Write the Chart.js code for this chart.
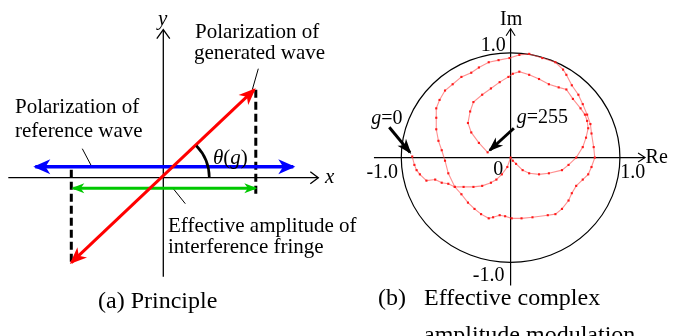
<!DOCTYPE html>
<html>
<head>
<meta charset="utf-8">
<script src="https://cdn.jsdelivr.net/npm/chart.js@4.4.0/dist/chart.umd.min.js"></script>
<style>
    html, body { margin: 0; padding: 0; background: #fff; }
    #wrap { position: relative; width: 673px; height: 336px; overflow: hidden; }
    #principle { position: absolute; left: 0; top: 0; }
    #modulation { position: absolute; left: 340px; top: 0; }
</style>
</head>
<body>
<div id="wrap">
    <canvas id="principle" width="673" height="336"></canvas>
    <canvas id="modulation" width="333" height="336"></canvas>
</div>
<script>
// ---- (a) Principle: vectors of the diagram, [x, y]
const refWave = [[-1.28, 0.11], [1.30, 0.11]];
const genWave = [[-0.92, -0.85], [0.91, 0.88]];
const effAmplitude = [[-0.90, -0.105], [0.92, -0.105]];
const projLeft = [[-0.92, 0.08], [-0.92, -0.84]];
const projRight = [[0.925, 0.88], [0.925, -0.19]];
const xAxisLine = [[-1.55, 0], [1.55, 0]];
const yAxisLine = [[0, -0.99], [0, 1.48]];
const leaderGen = [[0.95, 1.09], [0.89, 0.88]];
const leaderRef = [[-0.81, 0.29], [-0.71, 0.10]];
const leaderEff = [[0.10, -0.11], [0.22, -0.26]];
const thetaRadius = 0.46;

// ---- (b) Effective complex amplitude, g = 0 ... 255
const reValues = [
    -0.90, -0.88, -0.86, -0.83, -0.77, -0.69, -0.63, -0.57, -0.51,
    -0.45, -0.39, -0.33, -0.27, -0.20, -0.16, -0.10, -0.05, 0.01, 0.10, 0.20, 0.34, 0.41, 0.47, 0.53, 0.56,
    0.60, 0.66, 0.71, 0.74, 0.77, 0.76, 0.74, 0.73, 0.70, 0.66, 0.62, 0.56, 0.51, 0.48, 0.41, 0.29, 0.17,
    0.08, -0.01, -0.11, -0.20, -0.29, -0.36, -0.45, -0.53, -0.60, -0.65, -0.68, -0.68, -0.68, -0.66, -0.63,
    -0.60, -0.57, -0.51,
    -0.43, -0.34, -0.26, -0.18, -0.13, -0.08, -0.03, 0.00,
    0.02, 0.05, 0.11, 0.17, 0.26, 0.35, 0.47, 0.53, 0.60, 0.66, 0.69, 0.71, 0.70, 0.68, 0.64, 0.57, 0.51,
    0.44, 0.35, 0.26, 0.17, 0.08, 0.02, -0.02, -0.10, -0.18, -0.26, -0.34, -0.37, -0.39, -0.36, -0.29, -0.21
];
const imValues = [
    0.01, -0.07, -0.12, -0.16, -0.22, -0.21, -0.24, -0.25, -0.28,
    -0.35, -0.43, -0.49, -0.54, -0.58, -0.57, -0.55, -0.56, -0.58, -0.58, -0.57, -0.55, -0.54, -0.49, -0.41, -0.34,
    -0.27, -0.21, -0.16, -0.09, 0.00, 0.10, 0.23, 0.32, 0.41, 0.51, 0.60, 0.69, 0.79, 0.84, 0.91, 0.95, 0.99,
    0.98, 0.95, 0.93, 0.91, 0.86, 0.81, 0.77, 0.70, 0.64, 0.55, 0.47, 0.38, 0.27, 0.16, 0.07,
    -0.03, -0.15, -0.28,
    -0.28, -0.28, -0.27, -0.24, -0.21, -0.16, -0.09, 0.00,
    -0.03, -0.06, -0.12, -0.15, -0.16, -0.15, -0.12, -0.07, 0.00, 0.10, 0.19, 0.28, 0.35, 0.41, 0.47, 0.56, 0.65,
    0.67, 0.70, 0.75, 0.79, 0.82, 0.80, 0.77, 0.72, 0.66, 0.60, 0.53, 0.44, 0.33, 0.24, 0.14, 0.05
];
const reAxisLine = [[-1.25, 0], [1.23, 0]];
const imAxisLine = [[0, -1.22], [0, 1.23]];
const g0Arrow = [[-1.11, 0.29], [-0.92, 0.05]];
const g255Arrow = [[0.03, 0.28], [-0.19, 0.07]];

const SERIF = '"Liberation Serif", "Times New Roman", serif';

function toPts(pairs) {
    return pairs.map(p => ({ x: p[0], y: p[1] }));
}

function lineSet(pairs, color, width, extra) {
    return Object.assign({
        data: toPts(pairs),
        showLine: true,
        borderColor: color,
        borderWidth: width,
        pointRadius: 0,
        fill: false
    }, extra || {});
}

// arrow head at tip, pointing away from "from"
function drawHead(ctx, tip, from, h, color) {
    const a = Math.atan2(tip.y - from.y, tip.x - from.x);
    ctx.save();
    ctx.translate(tip.x, tip.y);
    ctx.rotate(a);
    ctx.beginPath();
    if (h.open) {
        ctx.moveTo(-h.len, -h.half);
        ctx.lineTo(0, 0);
        ctx.lineTo(-h.len, h.half);
        ctx.strokeStyle = color;
        ctx.lineWidth = h.width || 1.3;
        ctx.stroke();
    } else {
        const ext = h.ext || 0;
        ctx.moveTo(ext, 0);
        ctx.lineTo(ext - h.len, -h.half);
        ctx.lineTo(ext - h.len * (h.notch || 0.72), 0);
        ctx.lineTo(ext - h.len, h.half);
        ctx.closePath();
        ctx.fillStyle = color;
        ctx.fill();
    }
    ctx.restore();
}

const arrowPlugin = {
    id: 'arrowHeads',
    afterDatasetsDraw: function(chart) {
        const ctx = chart.ctx;
        chart.data.datasets.forEach((ds, i) => {
            if (!ds.heads) return;
            const pts = chart.getDatasetMeta(i).data;
            const n = pts.length;
            if (ds.heads.end) drawHead(ctx, pts[n - 1], pts[n - 2], ds.heads, ds.borderColor);
            if (ds.heads.start) drawHead(ctx, pts[0], pts[1], ds.heads, ds.borderColor);
        });
    }
};

// text made of plain / italic parts, anchored at a data position (left, baseline)
function drawRich(chart, parts, x, y, size) {
    const ctx = chart.ctx;
    let px = chart.scales.x.getPixelForValue(x);
    const py = chart.scales.y.getPixelForValue(y);
    ctx.save();
    ctx.fillStyle = '#000';
    ctx.textAlign = 'left';
    ctx.textBaseline = 'alphabetic';
    parts.forEach(p => {
        ctx.font = (p[1] ? 'italic ' : '') + size + 'px ' + SERIF;
        ctx.fillText(p[0], px, py);
        px += ctx.measureText(p[0]).width;
    });
    ctx.restore();
}

function textPlugin(labels) {
    return {
        id: 'labels',
        afterDraw: function(chart) {
            labels.forEach(l => drawRich(chart, l.parts, l.x, l.y, l.size));
        }
    };
}

const baseOptions = function(xMin, xMax, yMin, yMax) {
    return {
        responsive: false,
        animation: false,
        layout: { padding: 0 },
        plugins: { legend: { display: false }, tooltip: { enabled: false } },
        scales: {
            x: { type: 'linear', min: xMin, max: xMax, display: false },
            y: { type: 'linear', min: yMin, max: yMax, display: false }
        },
        elements: { line: { tension: 0 } }
    };
};

// ---------------- (a) Principle ----------------
const principleLabels = [
    { parts: [['y', 1]], x: -0.053, y: 1.527, size: 21 },
    { parts: [['x', 1]], x: 1.617, y: -0.05, size: 21 },
    { parts: [['Polarization of', 0]], x: 0.317, y: 1.397, size: 21 },
    { parts: [['generated wave', 0]], x: 0.307, y: 1.187, size: 21 },
    { parts: [['Polarization of', 0]], x: -1.483, y: 0.644, size: 21 },
    { parts: [['reference wave', 0]], x: -1.483, y: 0.404, size: 21 },
    { parts: [['θ', 1], ['(', 0], ['g', 1], [')', 0]], x: 0.497, y: 0.137, size: 21 },
    { parts: [['Effective amplitude of', 0]], x: 0.047, y: -0.546, size: 21 },
    { parts: [['interference fringe', 0]], x: 0.047, y: -0.756, size: 21 },
    { parts: [['(a) Principle', 0]], x: -0.653, y: -1.306, size: 24 }
];

const thetaPlugin = {
    id: 'thetaArc',
    afterDatasetsDraw: function(chart) {
        const sx = chart.scales.x, sy = chart.scales.y;
        const cx = sx.getPixelForValue(0), cy = sy.getPixelForValue(0);
        const r = sx.getPixelForValue(thetaRadius) - cx;
        const tip = genWave[1];
        const ang = Math.atan2(sy.getPixelForValue(tip[1]) - cy, sx.getPixelForValue(tip[0]) - cx);
        const ctx = chart.ctx;
        ctx.save();
        ctx.beginPath();
        ctx.arc(cx, cy, r, ang, 0);
        ctx.strokeStyle = '#000';
        ctx.lineWidth = 2.6;
        ctx.stroke();
        ctx.restore();
    }
};

new Chart(document.getElementById('principle'), {
    type: 'scatter',
    data: {
        datasets: [
            lineSet(genWave, '#ff0000', 3, { heads: { start: true, end: true, len: 17, half: 7, ext: 2 } }),
            lineSet(refWave, '#0000ff', 3.5, { heads: { start: true, end: true, len: 17, half: 7.5, ext: 2 } }),
            lineSet(effAmplitude, '#00c800', 3, { heads: { start: true, end: true, len: 13, half: 5, ext: 2 } }),
            lineSet(projLeft, '#000', 3, { borderDash: [8, 4] }),
            lineSet(projRight, '#000', 3, { borderDash: [8, 4] }),
            lineSet(leaderGen, '#000', 1),
            lineSet(leaderRef, '#000', 1),
            lineSet(leaderEff, '#000', 1),
            lineSet(xAxisLine, '#000', 1.3, { heads: { end: true, open: true, len: 8, half: 6 } }),
            lineSet(yAxisLine, '#000', 1.3, { heads: { end: true, open: true, len: 9, half: 6.5 } })
        ]
    },
    options: baseOptions(-1.633, 5.097, -1.583, 1.777),
    plugins: [arrowPlugin, thetaPlugin, textPlugin(principleLabels)]
});

// ---------------- (b) Effective complex amplitude modulation ----------------
const modulationLabels = [
    { parts: [['Im', 0]], x: -0.096, y: 1.264, size: 20 },
    { parts: [['1.0', 0]], x: -0.274, y: 1.016, size: 20 },
    { parts: [['g', 1], ['=0', 0]], x: -1.274, y: 0.322, size: 20 },
    { parts: [['g', 1], ['=255', 0]], x: 0.056, y: 0.332, size: 20 },
    { parts: [['-1.0', 0]], x: -1.319, y: -0.196, size: 20 },
    { parts: [['0', 0]], x: -0.158, y: -0.165, size: 20 },
    { parts: [['1.0', 0]], x: 1.003, y: -0.196, size: 20 },
    { parts: [['Re', 0]], x: 1.235, y: -0.056, size: 20 },
    { parts: [['-1.0', 0]], x: -0.346, y: -1.174, size: 20 },
    { parts: [['(b)', 0]], x: -1.212, y: -1.41, size: 24 },
    { parts: [['Effective complex', 0]], x: -0.792, y: -1.41, size: 24 },
    { parts: [['amplitude modulation.', 0]], x: -0.792, y: -1.76, size: 24 }
];

const unitCirclePlugin = {
    id: 'unitCircle',
    beforeDatasetsDraw: function(chart) {
        const sx = chart.scales.x, sy = chart.scales.y;
        const cx = sx.getPixelForValue(0), cy = sy.getPixelForValue(0);
        const rx = sx.getPixelForValue(1) - cx;
        const ry = cy - sy.getPixelForValue(1);
        const ctx = chart.ctx;
        ctx.save();
        ctx.beginPath();
        ctx.ellipse(cx, cy, rx, ry, 0, 0, Math.PI * 2);
        ctx.strokeStyle = '#000';
        ctx.lineWidth = 1.2;
        ctx.stroke();
        ctx.restore();
    }
};

const curvePoints = reValues.map((re, i) => ({ x: re, y: imValues[i] }));

new Chart(document.getElementById('modulation'), {
    type: 'scatter',
    data: {
        datasets: [
            {
                data: curvePoints,
                showLine: true,
                borderColor: 'rgba(255, 70, 70, 0.6)',
                borderWidth: 1.1,
                pointStyle: 'rect',
                pointRadius: 1.5,
                pointBorderWidth: 0,
                pointBackgroundColor: '#ff1a1a'
            },
            lineSet(g0Arrow, '#000', 3, { heads: { end: true, len: 15, half: 5.5, ext: 2 } }),
            lineSet(g255Arrow, '#000', 3, { heads: { end: true, len: 15, half: 5.5, ext: 2 } }),
            lineSet(reAxisLine, '#000', 1.2, { heads: { end: true, open: true, len: 7, half: 4.5, width: 1.1 } }),
            lineSet(imAxisLine, '#000', 1.2, { heads: { end: true, open: true, len: 7, half: 4.5, width: 1.1 } })
        ]
    },
    options: baseOptions(-1.524, 1.449, -1.665, 1.466),
    plugins: [unitCirclePlugin, arrowPlugin, textPlugin(modulationLabels)]
});
</script>
</body>
</html>
